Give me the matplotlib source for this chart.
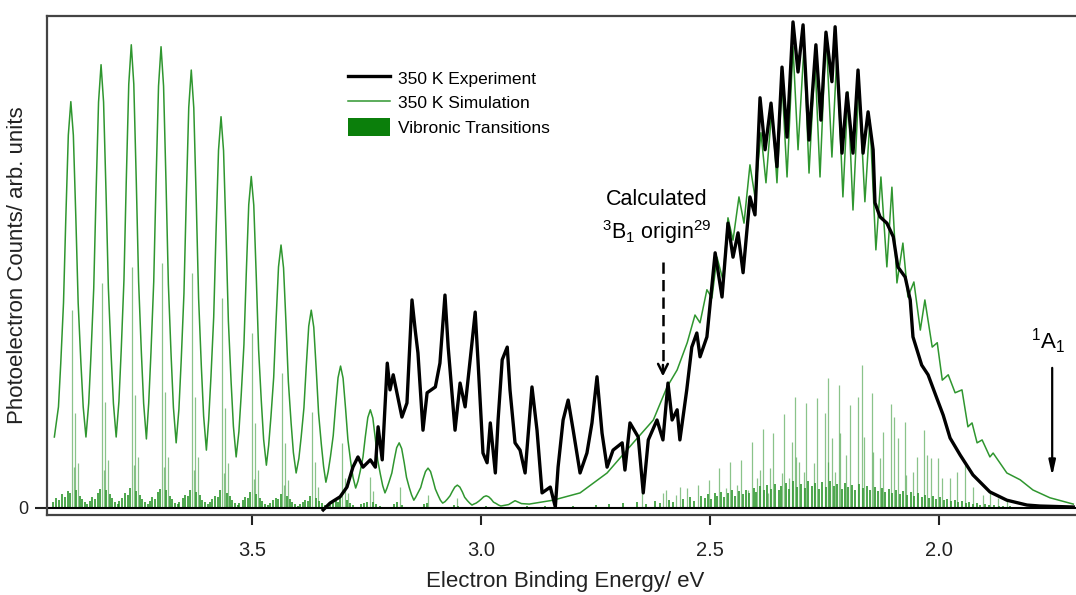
import matplotlib
matplotlib.use("Agg")
import matplotlib.pyplot as plt
from matplotlib.patches import Patch
from matplotlib.lines import Line2D

plt.rcParams['font.family'] = ['Liberation Sans', 'DejaVu Sans']
plt.rcParams['mathtext.fontset'] = 'custom'
plt.rcParams['mathtext.rm'] = 'Liberation Sans'
plt.rcParams['mathtext.it'] = 'Liberation Sans:italic'

# 350 K experiment, (binding energy eV, counts)
experiment = [
    (3.345, -0.004), (3.330, 0.010), (3.308, 0.023), (3.293, 0.043), (3.280, 0.084),
    (3.269, 0.105), (3.258, 0.084), (3.242, 0.099), (3.231, 0.084), (3.225, 0.167),
    (3.216, 0.099), (3.205, 0.298), (3.199, 0.243), (3.192, 0.274), (3.173, 0.187),
    (3.162, 0.216), (3.151, 0.428), (3.144, 0.366), (3.138, 0.319), (3.127, 0.160),
    (3.118, 0.237), (3.100, 0.249), (3.090, 0.298), (3.079, 0.438), (3.072, 0.331),
    (3.057, 0.160), (3.046, 0.257), (3.035, 0.208), (3.020, 0.340), (3.013, 0.403),
    (3.007, 0.305), (2.996, 0.113), (2.987, 0.093), (2.980, 0.175), (2.969, 0.072),
    (2.963, 0.181), (2.954, 0.305), (2.943, 0.331), (2.937, 0.243), (2.926, 0.134),
    (2.915, 0.119), (2.904, 0.072), (2.889, 0.249), (2.878, 0.160), (2.867, 0.031),
    (2.849, 0.043), (2.838, 0.002), (2.832, 0.084), (2.821, 0.181), (2.810, 0.222),
    (2.799, 0.160), (2.784, 0.072), (2.769, 0.113), (2.758, 0.175), (2.747, 0.270),
    (2.736, 0.154), (2.725, 0.084), (2.712, 0.119), (2.692, 0.134), (2.686, 0.078),
    (2.675, 0.175), (2.657, 0.146), (2.646, 0.031), (2.635, 0.140), (2.616, 0.181),
    (2.603, 0.140), (2.592, 0.257), (2.583, 0.181), (2.572, 0.202), (2.566, 0.140),
    (2.551, 0.243), (2.540, 0.331), (2.529, 0.360), (2.522, 0.311), (2.507, 0.352),
    (2.489, 0.525), (2.474, 0.434), (2.461, 0.586), (2.450, 0.516), (2.439, 0.566),
    (2.428, 0.484), (2.413, 0.640), (2.402, 0.603), (2.391, 0.844), (2.380, 0.737),
    (2.367, 0.833), (2.354, 0.702), (2.343, 0.907), (2.332, 0.763), (2.319, 1.000),
    (2.308, 0.897), (2.297, 0.994), (2.284, 0.757), (2.269, 0.953), (2.258, 0.798),
    (2.247, 0.979), (2.234, 0.877), (2.227, 0.990), (2.212, 0.730), (2.201, 0.854),
    (2.188, 0.730), (2.177, 0.901), (2.166, 0.730), (2.155, 0.815), (2.144, 0.737),
    (2.140, 0.628), (2.129, 0.599), (2.114, 0.586), (2.100, 0.558), (2.090, 0.496),
    (2.074, 0.475), (2.063, 0.428), (2.057, 0.352), (2.038, 0.294), (2.024, 0.274),
    (2.005, 0.226), (1.991, 0.191), (1.976, 0.144), (1.954, 0.109), (1.926, 0.068),
    (1.889, 0.033), (1.852, 0.016), (1.808, 0.006), (1.780, 0.004), (1.707, 0.002),
]

# 350 K simulation
simulation = [
    (3.932, .146), (3.923, .208), (3.918, .298), (3.912, .422), (3.907, .595), (3.9015, .767),
    (3.896, .836), (3.8905, .767), (3.885, .595), (3.880, .422), (3.874, .298), (3.869, .208),
    (3.863, .146),
    (3.857, .215), (3.852, .315), (3.846, .452), (3.841, .644), (3.8355, .835),
    (3.830, .912), (3.8245, .835), (3.819, .644), (3.814, .452), (3.808, .315), (3.803, .215),
    (3.797, .146),
    (3.791, .219), (3.786, .324), (3.780, .469), (3.775, .671), (3.7695, .872),
    (3.764, .953), (3.7585, .872), (3.753, .669), (3.748, .466), (3.742, .320), (3.737, .215),
    (3.731, .142),
    (3.726, .215), (3.721, .320), (3.715, .465), (3.710, .667), (3.7045, .868),
    (3.699, .949), (3.6935, .868), (3.688, .664), (3.683, .460), (3.677, .313), (3.672, .207),
    (3.666, .134),
    (3.660, .203), (3.655, .303), (3.649, .441), (3.644, .633), (3.6385, .824),
    (3.633, .901), (3.6275, .823), (3.622, .627), (3.617, .432), (3.611, .291), (3.606, .189),
    (3.600, .119),
    (3.595, .181), (3.590, .270), (3.584, .393), (3.579, .565), (3.5735, .736),
    (3.568, .805), (3.5625, .735), (3.557, .560), (3.552, .385), (3.546, .259), (3.541, .168),
    (3.535, .105),
    (3.529, .157), (3.524, .232), (3.518, .336), (3.513, .480), (3.5075, .624),
    (3.502, .682), (3.4965, .623), (3.491, .474), (3.486, .326), (3.480, .219), (3.475, .141),
    (3.469, .088),
    (3.464, .129), (3.459, .188), (3.453, .269), (3.448, .382), (3.4425, .496),
    (3.437, .541), (3.4315, .494), (3.426, .377), (3.421, .260), (3.415, .175), (3.410, .114),
    (3.404, .072),
    (3.398, .102), (3.393, .146), (3.387, .206), (3.382, .290), (3.3765, .374),
    (3.371, .407), (3.3655, .372), (3.360, .283), (3.355, .195), (3.349, .131), (3.344, .085),
    (3.339, .053),
    (3.334, .075), (3.329, .106), (3.323, .149), (3.318, .208), (3.3125, .268),
    (3.307, .292), (3.3015, .267), (3.296, .204), (3.291, .141), (3.285, .096), (3.280, .064),
    (3.274, .041),
    (3.269, .055), (3.264, .076), (3.258, .105), (3.253, .146), (3.2475, .186),
    (3.242, .202), (3.2365, .185), (3.231, .142), (3.226, .099), (3.220, .069), (3.215, .046),
    (3.210, .031),
    (3.206, .040), (3.201, .054), (3.195, .072), (3.190, .098), (3.1845, .124),
    (3.179, .134), (3.1735, .122), (3.168, .093), (3.163, .063), (3.157, .042), (3.152, .027),
    (3.147, .016),
    (3.143, .022), (3.138, .031), (3.132, .042), (3.127, .059), (3.1215, .075),
    (3.116, .082), (3.1105, .075), (3.105, .057), (3.100, .039), (3.094, .026), (3.089, .016),
    (3.084, .010),
    (3.079, .013), (3.074, .018), (3.068, .025), (3.063, .034), (3.0575, .043),
    (3.052, .047), (3.0465, .043), (3.041, .033), (3.036, .022), (3.030, .015), (3.025, .010),
    (3.020, .006),
    (3.016, .008), (3.011, .010), (3.005, .014), (3.000, .018), (2.9945, .023),
    (2.989, .025), (2.9835, .023), (2.978, .018), (2.973, .012), (2.967, .009), (2.962, .006),
    (2.957, .004),
    (2.940, .007), (2.933, .011), (2.926, .015), (2.919, .012), (2.912, .009), (2.895, .008),
    (2.843, .016), (2.784, .031), (2.725, .072), (2.668, .134), (2.624, .181), (2.594, .249),
    (2.572, .284), (2.550, .340), (2.533, .397), (2.522, .381),
    (2.507, .449), (2.496, .432), (2.485, .516), (2.472, .469), (2.461, .597), (2.450, .551),
    (2.437, .640), (2.426, .586), (2.413, .706), (2.402, .640), (2.389, .772), (2.378, .669),
    (2.365, .825), (2.354, .669), (2.343, .877), (2.332, .681), (2.319, .949), (2.308, .737),
    (2.295, .949), (2.284, .689), (2.271, .922), (2.260, .681), (2.247, .979), (2.234, .722),
    (2.223, .936), (2.210, .640), (2.199, .856), (2.188, .613), (2.175, .874), (2.162, .630),
    (2.151, .798), (2.138, .531), (2.127, .681), (2.114, .496), (2.103, .660), (2.092, .463),
    (2.079, .545), (2.068, .434), (2.055, .465), (2.041, .366), (2.031, .428), (2.015, .331),
    (2.004, .340), (1.993, .263), (1.980, .274), (1.965, .237), (1.950, .243), (1.937, .167),
    (1.928, .175), (1.917, .134), (1.906, .140), (1.889, .105), (1.882, .113), (1.852, .072),
    (1.823, .058), (1.795, .037), (1.758, .021), (1.707, .008),
]

# vibronic transitions: strong lines
sticks_major = [
    (3.894, .407), (3.828, .463), (3.763, .496), (3.697, .504), (3.632, .484), (3.566, .432),
    (3.501, .360), (3.434, .278), (3.370, .198), (3.304, .134), (3.242, .064), (3.177, .043),
    (3.116, .027), (3.052, .020),
    (3.887, .195), (3.821, .218), (3.756, .233), (3.690, .239), (3.625, .228), (3.559, .206),
    (3.494, .175), (3.428, .134), (3.363, .095), (3.297, .062), (3.236, .035),
    (3.881, .093), (3.815, .099), (3.750, .105), (3.684, .105), (3.619, .105), (3.553, .093),
    (3.488, .078), (3.421, .058), (3.357, .043), (3.291, .030),
    (3.890, .084), (3.824, .078), (3.759, .088), (3.693, .084), (3.628, .078), (3.562, .072),
    (3.497, .060), (3.430, .048),
    (2.649, .037), (2.603, .031), (2.566, .043), (2.596, .037), (2.574, .027), (2.550, .041),
    (2.526, .047), (2.502, .058), (2.480, .082), (2.456, .095), (2.432, .099), (2.409, .136),
    (2.385, .163), (2.362, .154), (2.338, .193), (2.314, .228), (2.290, .216), (2.267, .226),
    (2.243, .267), (2.218, .253), (2.194, .212), (2.178, .228), (2.169, .294), (2.164, .146),
    (2.147, .237), (2.145, .115), (2.130, .103), (2.123, .156), (2.105, .214), (2.098, .187),
    (2.089, .144), (2.074, .177), (2.072, .068), (2.057, .074), (2.049, .105), (2.033, .160),
    (2.026, .109), (2.018, .103), (2.002, .103), (1.994, .062), (1.976, .062), (1.960, .074),
    (1.943, .088), (1.926, .043), (1.903, .027), (1.889, .033), (1.871, .021), (1.852, .016),
    (2.391, .078), (2.369, .082), (2.343, .072), (2.322, .136), (2.312, .105), (2.305, .095),
    (2.296, .074), (2.274, .093), (2.250, .195), (2.242, .095), (2.234, .144), (2.227, .074),
    (2.216, .154), (2.203, .109), (2.465, .041), (2.441, .047), (2.417, .037), (2.397, .062),
    (2.373, .031), (2.327, .062),
]

# vibronic transitions: weak lines near the baseline
sticks_minor = [
    (3.935, .012), (3.928, .020), (3.921, .016), (3.915, .028), (3.909, .022), (3.903, .035),
    (3.898, .030), (3.885, .038), (3.877, .025), (3.872, .018), (3.866, .012), (3.860, .009),
    (3.855, .014), (3.849, .022), (3.843, .018), (3.837, .030), (3.832, .040), (3.819, .036),
    (3.811, .028), (3.806, .020), (3.800, .013), (3.794, .009),
    (3.790, .015), (3.784, .020), (3.778, .030), (3.772, .026), (3.767, .042), (3.753, .034),
    (3.746, .027), (3.740, .019), (3.734, .012), (3.728, .008),
    (3.724, .014), (3.718, .022), (3.712, .019), (3.706, .033), (3.701, .040), (3.688, .037),
    (3.680, .025), (3.674, .018), (3.668, .011), (3.662, .009),
    (3.659, .013), (3.652, .021), (3.646, .027), (3.640, .024), (3.636, .038), (3.622, .033),
    (3.615, .026), (3.609, .017), (3.603, .012), (3.597, .008),
    (3.593, .012), (3.587, .019), (3.581, .025), (3.575, .022), (3.570, .036), (3.556, .031),
    (3.549, .024), (3.543, .016), (3.537, .010), (3.531, .007),
    (3.528, .011), (3.521, .017), (3.515, .023), (3.509, .021), (3.505, .033), (3.491, .028),
    (3.484, .020), (3.478, .014), (3.472, .009), (3.466, .006),
    (3.462, .010), (3.455, .016), (3.449, .020), (3.443, .018), (3.438, .029), (3.425, .025),
    (3.418, .018), (3.412, .012), (3.406, .008), (3.400, .005),
    (3.396, .009), (3.390, .013), (3.384, .017), (3.378, .015), (3.374, .024), (3.360, .020),
    (3.353, .015), (3.347, .010), (3.340, .006),
    (3.330, .007), (3.324, .011), (3.318, .014), (3.312, .012), (3.308, .020), (3.294, .016),
    (3.287, .011), (3.280, .007),
    (3.262, .008), (3.255, .010), (3.249, .013), (3.237, .012), (3.229, .008), (3.220, .005),
    (3.190, .009), (3.183, .012), (3.172, .007), (3.125, .008), (3.118, .010), (3.060, .006),
    (3.050, .005), (2.990, .004),
    (2.950, .003), (2.900, .004), (2.860, .004), (2.800, .005), (2.750, .006), (2.720, .008),
    (2.690, .010), (2.660, .012), (2.640, .009), (2.620, .014), (2.610, .010), (2.590, .016),
    (2.580, .012), (2.560, .018), (2.545, .022), (2.535, .015), (2.520, .025),
    (2.512, .020), (2.505, .028), (2.497, .018), (2.490, .030), (2.484, .024), (2.476, .033),
    (2.469, .022), (2.461, .030), (2.452, .036), (2.446, .025), (2.438, .034), (2.428, .028),
    (2.421, .038), (2.414, .030), (2.405, .042), (2.399, .033), (2.392, .045), (2.382, .036),
    (2.376, .048), (2.366, .040), (2.358, .050), (2.350, .038), (2.345, .046), (2.335, .052),
    (2.328, .040), (2.318, .055), (2.310, .044), (2.301, .050), (2.293, .042), (2.286, .056),
    (2.278, .046), (2.270, .052), (2.262, .040), (2.255, .054), (2.247, .044), (2.238, .056),
    (2.230, .046), (2.222, .050), (2.213, .040), (2.206, .052), (2.198, .044), (2.190, .048),
    (2.183, .038), (2.174, .050), (2.166, .042), (2.158, .046), (2.150, .036), (2.141, .044),
    (2.134, .035), (2.125, .042), (2.118, .032), (2.110, .040), (2.102, .030), (2.094, .036),
    (2.086, .028), (2.079, .034), (2.070, .026), (2.062, .032), (2.054, .024), (2.046, .030),
    (2.038, .022), (2.030, .027), (2.022, .020), (2.014, .025), (2.006, .018), (1.998, .022),
    (1.990, .016), (1.982, .019), (1.974, .014), (1.966, .017), (1.958, .012), (1.950, .014),
    (1.942, .010), (1.934, .012), (1.926, .008), (1.918, .010), (1.910, .007), (1.900, .008),
    (1.890, .006), (1.880, .006), (1.870, .005), (1.860, .004), (1.845, .004), (1.830, .003),
    (1.815, .003), (1.800, .002),
]

x_ticks = [3.5, 3.0, 2.5, 2.0]
x_tick_labels = ['3.5', '3.0', '2.5', '2.0']

origin_3b1 = 2.603   # calculated 3B1 origin
origin_1a1 = 1.753   # 1A1 marker

green = '#2f962f'

fig = plt.figure(figsize=(10.76, 5.95), dpi=100)
ax = fig.add_axes([0.0437, 0.1345, 0.9563, 0.8387])

sx, sy = zip(*sticks_minor)
ax.vlines(sx, 0, sy, color='#108810', lw=1.1, alpha=0.95, zorder=1)
sx, sy = zip(*sticks_major)
ax.vlines(sx, 0, sy, color='#3c9c3c', lw=0.9, alpha=0.6, zorder=1)

ex, ey = zip(*simulation)
ax.plot(ex, ey, color=green, lw=1.1, zorder=3)
ex, ey = zip(*experiment)
ax.plot(ex, ey, color='black', lw=2.4, zorder=4)

ax.axhline(0, color='black', lw=1.5, zorder=2)

# annotations
ax.text(2.616, 0.634, 'Calculated', ha='center', va='center', fontsize=15.5)
ax.text(2.616, 0.568, r'$^{3}$B$_{1}$ origin$^{29}$', ha='center', va='center', fontsize=15.5)
ax.plot([origin_3b1, origin_3b1], [0.506, 0.29], color='black', lw=1.8, ls=(0, (4.5, 2.5)), zorder=5)
ax.annotate('', xy=(origin_3b1, 0.265), xytext=(origin_3b1, 0.30),
            arrowprops=dict(arrowstyle='->,head_width=0.35,head_length=0.7', lw=1.8, color='black'),
            zorder=5)

ax.text(1.762, 0.342, r'$^{1}$A$_{1}$', ha='center', va='center', fontsize=16)
ax.annotate('', xy=(origin_1a1, 0.060), xytext=(origin_1a1, 0.294),
            arrowprops=dict(arrowstyle='-|>,head_width=0.2,head_length=0.9', lw=1.6, color='black'),
            zorder=5)

ax.set_xlim(3.948, 1.701)
ax.set_ylim(-0.0144, 1.0123)
ax.set_xticks(x_ticks)
ax.set_xticklabels(x_tick_labels)
ax.set_yticks([0])
ax.set_yticklabels(['0'])
ax.tick_params(axis='x', direction='out', length=7, width=1.5, pad=12, labelsize=14.5, colors='#222222')
ax.tick_params(axis='y', direction='out', length=8.5, width=1.5, pad=5, labelsize=13, colors='#222222')

for side in ['left', 'top', 'bottom']:
    ax.spines[side].set_color('#444444')
    ax.spines[side].set_linewidth(1.6)
ax.spines['right'].set_visible(False)

ax.set_xlabel('Electron Binding Energy/ eV', fontsize=16, color='#222222')
ax.set_ylabel('Photoelectron Counts/ arb. units', fontsize=16, color='#222222')
ax.xaxis.set_label_coords(0.504, -0.112)
ax.yaxis.set_label_coords(-0.018, 0.5)

handles = [
    Line2D([], [], color='black', lw=2.4),
    Line2D([], [], color=green, lw=1.1),
    Patch(facecolor='#0b7f0b', edgecolor='none'),
]
labels = ['350 K Experiment', '350 K Simulation', 'Vibronic Transitions']
ax.legend(handles, labels, loc='upper left', bbox_to_anchor=(0.2925, 0.894), frameon=False,
          fontsize=12.5, handlelength=2.4, handleheight=1.2, handletextpad=0.5,
          labelspacing=0.4, borderpad=0, borderaxespad=0)

fig.savefig('out.png', dpi=100, facecolor='white')
